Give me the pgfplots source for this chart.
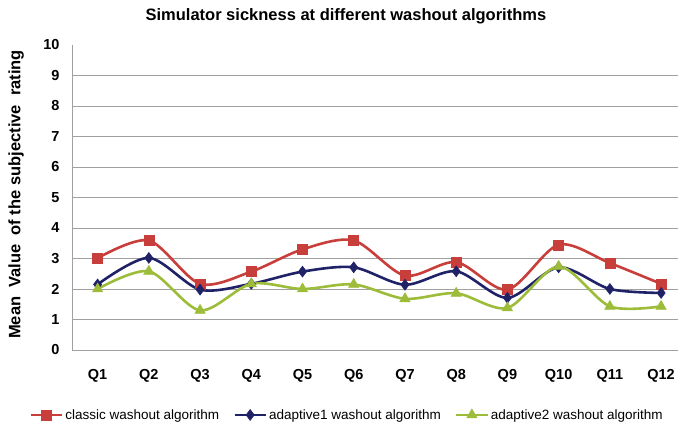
\documentclass[border=0pt]{standalone}
\usepackage{pgfplots}
\pgfplotsset{compat=1.18}
\usepackage{fontspec}
\setmainfont{Liberation Sans}
\definecolor{cred}{RGB}{200,62,58}
\definecolor{cnavy}{RGB}{32,34,104}
\definecolor{cgreen}{RGB}{156,188,58}
\definecolor{gridgray}{RGB}{160,160,160}
\begin{document}
\begin{tikzpicture}[x=1pt,y=1pt]
\useasboundingbox (0,0) rectangle (678,427);
\begin{axis}[
  scale only axis,
  width=606pt, height=305pt,
  at={(72pt,77pt)}, anchor=south west,
  xmin=-0.5, xmax=11.33,
  ymin=0, ymax=10,
  xtick={0,...,11},
  xticklabels={Q1,Q2,Q3,Q4,Q5,Q6,Q7,Q8,Q9,Q10,Q11,Q12},
  ytick={0,...,10},
  extra y ticks={1,...,9},
  extra y tick labels={},
  extra y tick style={grid=major, major tick length=0pt},
  major grid style={gridgray, line width=0.8pt},
  major tick length=0pt,
  /pgf/number format/assume math mode=true,
  axis x line*=bottom,
  axis y line*=left,
  axis line style={gridgray, line width=0.8pt, -},
  tick label style={font=\fontsize{14.5}{16}\selectfont\bfseries},
  y tick label style={anchor=east, xshift=-9pt},
  x tick label style={anchor=north, yshift=-16pt},
  ylabel={Mean\ \ Value\ \ of the subjective\ \ rating},
  ylabel style={at={(axis description cs:-0.092,0.51)}, anchor=center, font=\fontsize{16.5}{18}\selectfont\bfseries},
  title={Simulator sickness at different washout algorithms},
  title style={at={(axis description cs:0.452,1.075)}, anchor=center, font=\fontsize{16.5}{18}\selectfont\bfseries},
  legend style={at={(axis description cs:0.454,-0.213)}, anchor=center, draw=none, fill=none,
    font=\fontsize{13.5}{15}\selectfont, /tikz/every even column/.append style={column sep=12pt}},
  legend columns=3,
  legend image code/.code={\draw[#1, mark repeat=2, mark phase=2] plot coordinates {(0cm,0cm) (0.55cm,0cm) (1.1cm,0cm)};},
  clip=false,
]
\addplot[cred, line width=2.6pt, smooth, tension=0.5, mark=square*, mark size=5pt, mark options={solid, line width=0.5pt}]
coordinates {(0,3.01) (1,3.59) (2,2.17) (3,2.57) (4,3.30) (5,3.59) (6,2.44) (7,2.88) (8,1.98) (9,3.45) (10,2.85) (11,2.17)};
\addlegendentry{classic washout algorithm}
\addplot[cnavy, line width=2.6pt, smooth, tension=0.5, mark=diamond*, mark size=5.5pt, mark options={solid, line width=0.5pt}]
coordinates {(0,2.15) (1,3.02) (2,1.98) (3,2.17) (4,2.57) (5,2.71) (6,2.14) (7,2.58) (8,1.71) (9,2.71) (10,2.00) (11,1.87)};
\addlegendentry{adaptive1 washout algorithm}
\addplot[cgreen, line width=2.6pt, smooth, tension=0.5, mark=triangle*, mark size=6pt, mark options={solid, line width=0.5pt}]
coordinates {(0,2.00) (1,2.58) (2,1.30) (3,2.17) (4,2.00) (5,2.15) (6,1.68) (7,1.86) (8,1.38) (9,2.74) (10,1.43) (11,1.43)};
\addlegendentry{adaptive2 washout algorithm}
\end{axis}
\end{tikzpicture}
\end{document}
